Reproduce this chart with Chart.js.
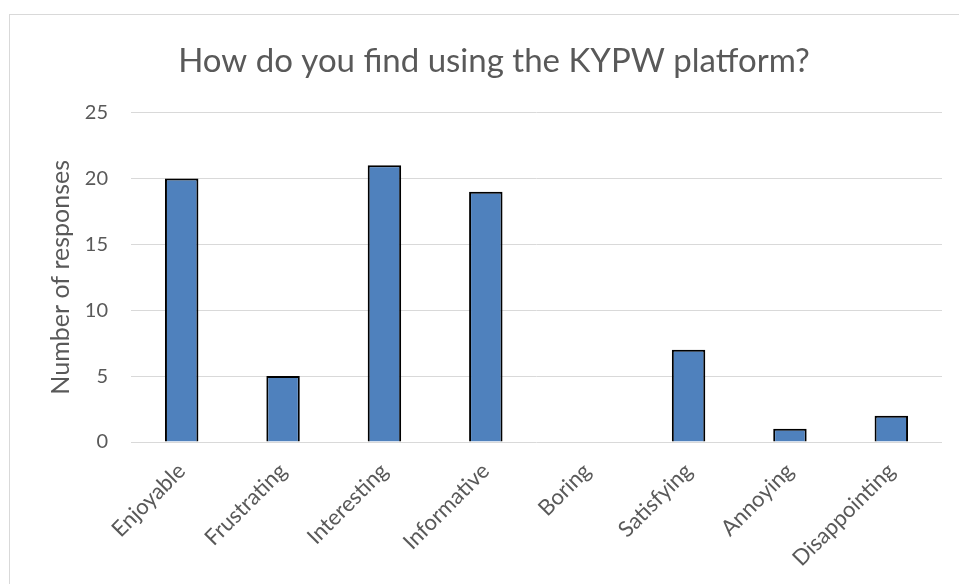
<!doctype html>
<html>

<head>
	<title>KYPW platform</title>
	<script src="https://cdn.jsdelivr.net/npm/chart.js@4/dist/chart.umd.min.js"></script>
	<style>
		body { margin: 0; background: #fff; }
		#frame { position: absolute; left: 9px; top: 14px; width: 1000px; height: 600px; border: 1px solid #d9d9d9; }
		#holder { position: absolute; left: 0; top: 0; width: 959px; height: 584px; }
	</style>
</head>

<body>
	<div id="frame"></div>
	<div id="holder">
		<canvas id="chart-area" width="959" height="584"></canvas>
	</div>
	<script>
		const categories = ['Enjoyable', 'Frustrating', 'Interesting', 'Informative', 'Boring', 'Satisfying', 'Annoying', 'Disappointing'];
		const responses = [20, 5, 21, 19, 0, 7, 1, 2];
		const yTicks = [0, 5, 10, 15, 20, 25];

		const textColor = '#595959';
		const fontFamily = "Lato, 'Open Sans', sans-serif";

		const config = {
			type: 'bar',
			data: {
				labels: categories,
				datasets: [{
					label: 'Number of responses',
					data: responses,
					backgroundColor: '#4f81bd',
					borderColor: '#000000',
					borderWidth: 2,
					barPercentage: 0.33,
					categoryPercentage: 1
				}]
			},
			options: {
				responsive: false,
				animation: false,
				layout: {
					padding: { left: 46, right: 17, top: 0, bottom: 0 }
				},
				plugins: {
					legend: { display: false },
					tooltip: { enabled: false },
					title: {
						display: true,
						text: 'How do you find using the KYPW platform?',
						color: textColor,
						font: { family: fontFamily, size: 33, weight: 'normal' },
						padding: { top: 42, bottom: 31 }
					}
				},
				scales: {
					x: {
						grid: { display: false },
						border: { display: false },
						ticks: {
							color: textColor,
							font: { family: fontFamily, size: 22 },
							minRotation: 45,
							maxRotation: 45,
							padding: 8
						},
						afterFit(scale) {
							scale.height = 584 - 442;
						}
					},
					y: {
						min: yTicks[0],
						max: yTicks[yTicks.length - 1],
						afterBuildTicks(scale) {
							scale.ticks = yTicks.map(v => ({ value: v }));
						},
						grid: { color: '#d9d9d9', lineWidth: 1, drawTicks: false },
						border: { display: false },
						ticks: {
							color: textColor,
							font: { family: fontFamily, size: 20 },
							padding: 23
						},
						title: {
							display: true,
							text: 'Number of responses',
							color: textColor,
							font: { family: fontFamily, size: 25 },
							padding: { top: 0, bottom: 0 }
						},
						afterFit(scale) {
							scale.width = 131 - 46;
						}
					}
				}
			}
		};

		window.onload = function() {
			const ctx = document.getElementById('chart-area').getContext('2d');
			window.myBar = new Chart(ctx, config);
		};
	</script>
</body>

</html>
